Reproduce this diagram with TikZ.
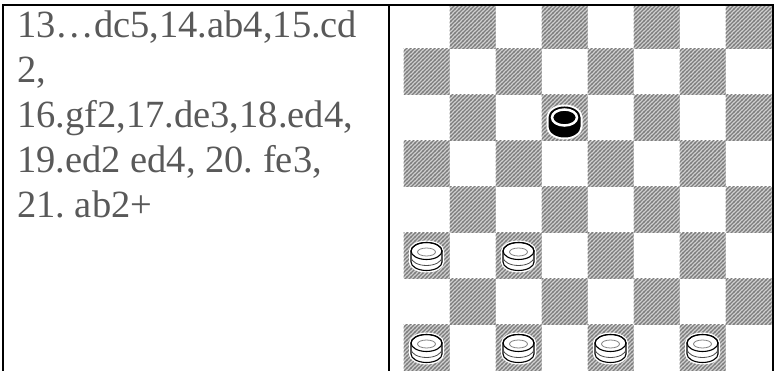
\documentclass[tikz,border=0pt]{standalone}
\usepackage{fontspec}
\setmainfont{Liberation Serif}
\usepackage{xcolor}
\usepackage{tikz}
\usetikzlibrary{patterns.meta}
\frenchspacing

\definecolor{movegray}{RGB}{89,89,89}
\definecolor{hatchlight}{RGB}{210,210,210}
\definecolor{hatchdark}{RGB}{125,125,125}

\tikzdeclarepattern{
  name=boardhatch,
  type=uncolored,
  bounding box={(0pt,0pt) and (4.3pt,4.3pt)},
  tile size={(4.3pt,4.3pt)},
  code={
    \draw[line width=1.5pt] (-1pt,-1pt) -- (5.3pt,5.3pt);
    \draw[line width=1.5pt] (-1pt,3.3pt) -- (1pt,5.3pt);
    \draw[line width=1.5pt] (3.3pt,-1pt) -- (5.3pt,1pt);
  }
}

\begin{document}
\begin{tikzpicture}[x=1pt, y=1pt,
    rule/.style={line width=2pt, black},
    move/.style={font=\fontsize{38.5}{45}\selectfont, text=movegray, anchor=base west, inner sep=0pt},
    darksq/.style={fill=hatchlight, postaction={pattern=boardhatch, pattern color=hatchdark}},
    pics/whiteman/.style={code={
      \draw[white, line width=4pt] (-15.5,5) -- (-15.5,-6) arc[start angle=180, end angle=360, x radius=15.5, y radius=8.5] -- (15.5,5) arc[start angle=0, end angle=180, x radius=15.5, y radius=8.5] -- cycle;
      \draw[line width=1.1pt, fill=white] (-15.5,5) -- (-15.5,-6) arc[start angle=180, end angle=360, x radius=15.5, y radius=8.5] -- (15.5,5) arc[start angle=0, end angle=180, x radius=15.5, y radius=8.5] -- cycle;
      \draw[line width=1.1pt] (0,5) ellipse [x radius=15.5, y radius=8.5];
      \draw[line width=0.8pt, black!70] (-15.5,-1) arc[start angle=180, end angle=360, x radius=15.5, y radius=8.5];
      \draw[line width=0.8pt, gray] (0,4) ellipse [x radius=9, y radius=4];
    }},
    pics/blackman/.style={code={
      \draw[white, line width=4pt] (-16,0.5) -- (-16,-8.5) arc[start angle=180, end angle=360, x radius=16, y radius=11] -- (16,0.5) arc[start angle=0, end angle=180, x radius=16, y radius=11] -- cycle;
      \fill[black] (-16,0.5) -- (-16,-8.5) arc[start angle=180, end angle=360, x radius=16, y radius=11] -- (16,0.5) arc[start angle=0, end angle=180, x radius=16, y radius=11] -- cycle;
      \draw[white, line width=2.5pt, fill=black] (0,0.5) ellipse [x radius=12.5, y radius=8];
    }}
]
\useasboundingbox (0,0) rectangle (778,371);

% Board: 8x8, dark squares hatched
\begin{scope}
\clip (388.5,0) rectangle (778,366);
\foreach \i in {0,...,7}
  \foreach \j in {0,...,7} {
    \pgfmathtruncatemacro\parity{mod(\i+\j,2)}
    \ifnum\parity=0
      \path[darksq] (403.5+46*\i, 46*\j) rectangle ++(46,46);
    \fi
  }
\end{scope}

% Men on the board
\pic at (426.5+46*3, 23+46*5) {blackman};
\foreach \i in {0,2}
  \pic at (426.5+46*\i, 23+46*2) {whiteman};
\foreach \i in {0,2,4,6}
  \pic at (426.5+46*\i, 23) {whiteman};

% Table rules
\coordinate (topL) at (2,366);
\coordinate (topR) at (773.5,366);
\draw[rule] (topL) -- (topR);
\draw[rule] (3,366) -- (3,0);
\draw[rule] (388.5,366) -- (388.5,0);
\draw[rule] (772.5,366) -- (772.5,0);

% Moves, one node per printed line
\node[move] (line1) at (17,333) {13…dc5,14.ab4,15.cd};
\node[move] (line2) at (17,288) {2,};
\node[move] (line3) at (17,243) {16.gf2,17.de3,18.ed4,};
\node[move] (line4) at (17,198) {19.ed2 ed4, 20. fe3,};
\node[move] (line5) at (17,153) {21. ab2+};
\end{tikzpicture}
\end{document}
